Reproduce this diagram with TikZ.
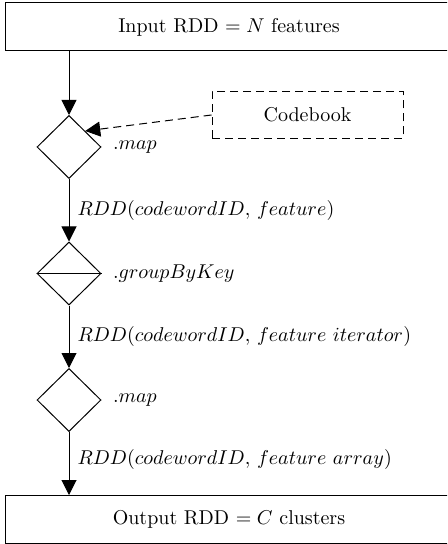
\documentclass[tikz,border=0pt]{standalone}
\usetikzlibrary{shapes.geometric,arrows.meta}
\begin{document}
\begin{tikzpicture}[x=1pt,y=1pt,line width=0.5pt,
  iobox/.style={draw,rectangle,minimum width=224pt,minimum height=24pt,inner sep=0pt},
  opnode/.style={draw,diamond,minimum width=32pt,minimum height=31.5pt,inner sep=0pt},
  dashbox/.style={draw,rectangle,dash pattern=on 4pt off 2.5pt,minimum width=95.5pt,minimum height=23.5pt,inner sep=0pt},
  flow/.style={-{Triangle[length=7.5pt,width=7.5pt]}},
  oplabel/.style={anchor=west,inner sep=0pt,xshift=5.5pt},
  edgelabel/.style={anchor=west,inner sep=0pt,xshift=4pt}]
\clip (0,0) rectangle (223.5,-272);
\node[iobox] (in) at (114.5,-13.5) {Input RDD $= N$ features};
\node[opnode] (d1) at (34.5,-73.5) {};
\node[dashbox] (cb) at (153.75,-57.5) {Codebook};
\node[opnode] (d2) at (34.5,-136.75) {};
\draw (d2.west) -- (d2.east);
\node[opnode] (d3) at (34.5,-200) {};
\node[iobox] (out) at (114.5,-259.75) {Output RDD $= C$ clusters};
\node[oplabel] (l1) at (d1.east) {$.map$};
\node[oplabel] (l2) at (d2.east) {$.groupByKey$};
\node[oplabel] (l3) at (d3.east) {$.map$};
\draw[flow] (in.south -| d1.north) -- (d1.north);
\draw[flow,dash pattern=on 4pt off 2.5pt] (cb.west) -- (d1.north east);
\draw[flow] (d1.south) -- node[edgelabel] (e1) {$RDD(codewordID,\, feature)$} (d2.north);
\draw[flow] (d2.south) -- node[edgelabel] (e2) {$RDD(codewordID,\, feature\ iterator)$} (d3.north);
\draw[flow] (d3.south) -- node[edgelabel,yshift=2pt] (e3) {$RDD(codewordID,\, feature\ array)$} (out.north -| d3.south);
\end{tikzpicture}
\end{document}
